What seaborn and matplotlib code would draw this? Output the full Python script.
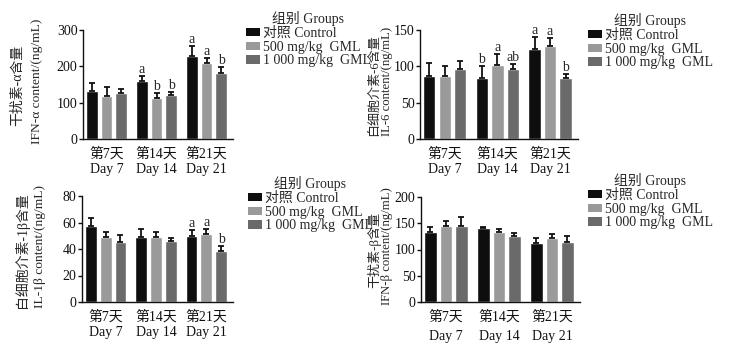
import numpy as np
import pandas as pd
import matplotlib
matplotlib.use("Agg")
import matplotlib.pyplot as plt
import matplotlib.patches as mpatches
import seaborn as sns

days = ["第7天\nDay 7", "第14天\nDay 14", "第21天\nDay 21"]
groups = ["对照 Control", "500 mg/kg  GML", "1 000 mg/kg  GML"]
colors = ["#0e0e0e", "#9a9a9a", "#6a6a6a"]

# IFN-alpha
ifna_ctrl = [132, 160, 229]
ifna_500 = [118, 114, 208]
ifna_1000 = [126, 122, 183]
ifna_top_ctrl = [154, 174, 255]
ifna_top_500 = [143, 126, 223]
ifna_top_1000 = [137, 129, 197]
ifna_letters = [["", "", ""], ["a", "b", "b"], ["a", "a", "b"]]

# IL-6
il6_ctrl = [87, 84, 124]
il6_500 = [87, 102, 128]
il6_1000 = [97, 96, 84]
il6_top_ctrl = [105, 100, 141]
il6_top_500 = [100, 117, 139]
il6_top_1000 = [107, 103, 89]
il6_letters = [["", "", ""], ["b", "a", "ab"], ["a", "a", "b"]]

# IL-1beta
il1b_ctrl = [57, 49, 49.5]
il1b_500 = [49, 49, 51]
il1b_1000 = [45, 46, 38.5]
il1b_top_ctrl = [63.5, 55, 54]
il1b_top_500 = [52.5, 52.5, 55]
il1b_top_1000 = [50.5, 48, 42]
il1b_letters = [["", "", ""], ["", "", ""], ["a", "a", "b"]]

# IFN-beta
ifnb_ctrl = [134, 141, 113]
ifnb_500 = [144, 133, 122]
ifnb_1000 = [145, 126, 114]
ifnb_top_ctrl = [143, 142, 121]
ifnb_top_500 = [155, 140, 129]
ifnb_top_1000 = [161, 132, 125]
ifnb_letters = [["", "", ""], ["", "", ""], ["", "", ""]]

ylabels_cn = ["干扰素-α含量", "白细胞介素-6含量", "白细胞介素-1β含量", "干扰素-β含量"]
ylabels_en = ["IFN-α content/(ng/mL)", "IL-6 content/(ng/mL)",
              "IL-1β content/(ng/mL)", "IFN-β content/(ng/mL)"]
yticks = [[0, 100, 200, 300], [0, 50, 100, 150], [0, 20, 40, 60, 80], [0, 50, 100, 150, 200]]

panels = [
    (ifna_ctrl, ifna_500, ifna_1000, ifna_top_ctrl, ifna_top_500, ifna_top_1000, ifna_letters),
    (il6_ctrl, il6_500, il6_1000, il6_top_ctrl, il6_top_500, il6_top_1000, il6_letters),
    (il1b_ctrl, il1b_500, il1b_1000, il1b_top_ctrl, il1b_top_500, il1b_top_1000, il1b_letters),
    (ifnb_ctrl, ifnb_500, ifnb_1000, ifnb_top_ctrl, ifnb_top_500, ifnb_top_1000, ifnb_letters),
]

sns.set_style("ticks")
FAM = ["Liberation Serif", "Noto Sans CJK SC"]
plt.rcParams["font.family"] = FAM
plt.rcParams["font.size"] = 10

W, H = 733, 347
fig = plt.figure(figsize=(W / 100, H / 100), dpi=100)

# axes boxes in pixels: x0, x1, ytop, ybottom
boxes = [(83, 233, 30, 139), (420, 578, 30, 139), (82, 233, 196, 302), (421, 580, 197, 302)]
ylab_x = [(18, 37), (374, 387), (22, 40), (374, 387)]
ylab_size = [(10, 9.7), (9.4, 9.2), (10, 9.7), (9.4, 9.2)]
leg_pos = [(246, 11), (588, 13), (248, 176), (588, 173)]
xlab_spacing = [1.2, 1.2, 1.2, 1.65]

for i, (box, data) in enumerate(zip(boxes, panels)):
    x0, x1, yt, yb = box
    ax = fig.add_axes([x0 / W, 1 - yb / H, (x1 - x0) / W, (yb - yt) / H])
    c, g5, g10, t_c, t_5, t_10, letters = data
    means = [c, g5, g10]
    tops = [t_c, t_5, t_10]
    df = pd.DataFrame({
        "day": np.repeat(days, 3),
        "group": groups * 3,
        "value": [means[g][d] for d in range(3) for g in range(3)],
    })
    sns.barplot(data=df, x="day", y="value", hue="group", order=days,
                hue_order=groups, palette=colors, errorbar=None,
                width=0.88, gap=0.2, saturation=1, ax=ax, legend=False)
    bar_conts = list(ax.containers)
    for g, cont in enumerate(bar_conts):
        xs = [p.get_x() + p.get_width() / 2 for p in cont.patches]
        ys = [p.get_height() for p in cont.patches]
        up = [tops[g][d] - means[g][d] for d in range(3)]
        ax.errorbar(xs, ys, yerr=[np.zeros(3), up], fmt="none", ecolor="#111111",
                    elinewidth=1.3, capsize=2.5, capthick=1.3)
        for d in range(3):
            lt = letters[d][g]
            if lt:
                ax.text(xs[d], tops[g][d], lt, ha="center", va="bottom",
                        fontsize=10, family=FAM)
    ax.set_xlim(-0.47, 2.53)
    ax.set_ylim(0, yticks[i][-1])
    ax.set_yticks(yticks[i])
    ax.set_xlabel("")
    ax.set_ylabel("")
    sns.despine(ax=ax)
    for s in ["left", "bottom"]:
        ax.spines[s].set_linewidth(1.0)
        ax.spines[s].set_color("#111111")
    ax.tick_params(axis="y", length=3, width=1.0, pad=1, labelsize=10, colors="#111111")
    ax.tick_params(axis="x", length=0, pad=6, labelsize=10, colors="#111111")
    for lbl in ax.get_xticklabels():
        lbl.set_linespacing(xlab_spacing[i])
    yc = (yt + yb) / 2
    fig.text(ylab_x[i][0] / W, 1 - (yc + 1) / H, ylabels_cn[i], rotation=90,
             ha="center", va="center", fontsize=ylab_size[i][0], family=FAM)
    fig.text(ylab_x[i][1] / W, 1 - (yc - 3) / H, ylabels_en[i], rotation=90,
             ha="center", va="center", fontsize=ylab_size[i][1], family=FAM)
    handles = [mpatches.Patch(facecolor=col, edgecolor="none") for col in colors]
    lx, ly = leg_pos[i]
    leg = fig.legend(handles, groups, title="组别 Groups", loc="upper left",
                     bbox_to_anchor=(lx / W, 1 - ly / H), frameon=False,
                     fontsize=10, title_fontsize=10, handlelength=1.0, handleheight=0.55,
                     handletextpad=0.2, labelspacing=0.05, borderpad=0, borderaxespad=0)

fig.savefig("out.png", dpi=100)
